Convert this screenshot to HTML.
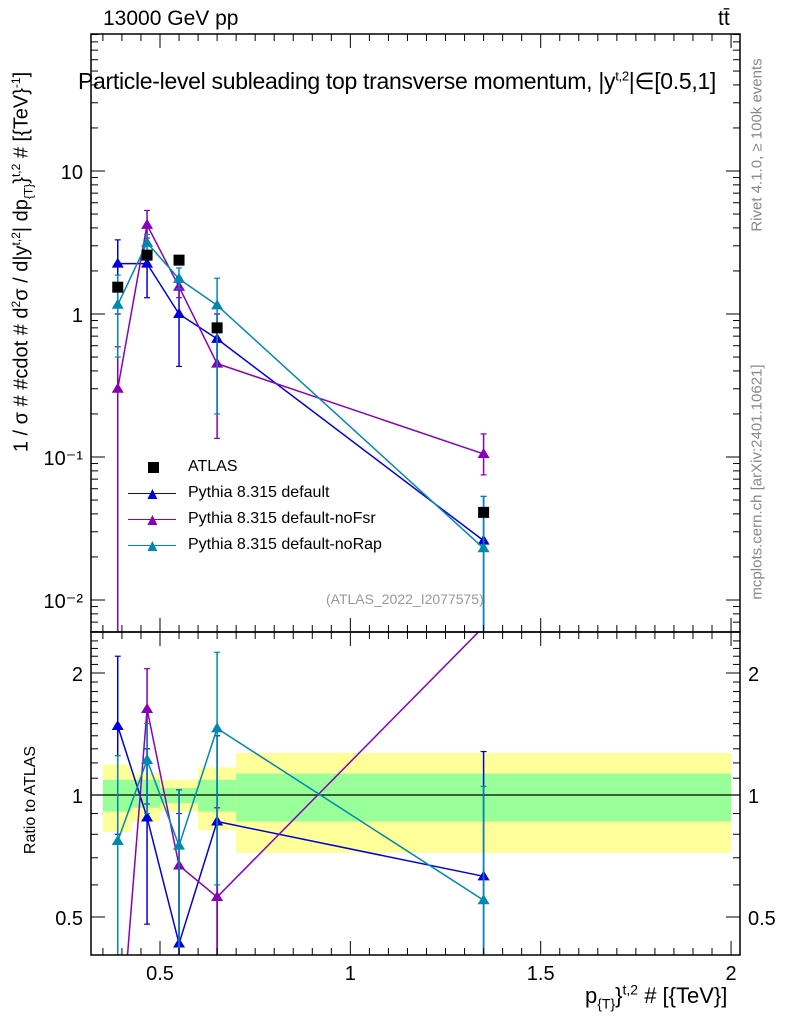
<!DOCTYPE html>
<html><head><meta charset="utf-8"><style>
html,body{margin:0;background:#fff;width:786px;height:1024px;overflow:hidden;}
svg{display:block;font-family:"Liberation Sans",sans-serif;}
sup,sub{line-height:0;}
</style></head><body>
<svg id="c" width="786" height="1024" viewBox="0 0 786 1024"></svg>
<script>
const binEdges=[0.35,0.425,0.5,0.6,0.7,2.0];
const xPts=[0.389,0.466,0.55,0.65,1.35];
const atlas=[1.54,2.58,2.38,0.80,0.041];
const defVal=[2.25,2.25,1.0,0.67,0.026];
const defUp=[3.3,2.6,1.8,1.0,0.053];
const defDn=[1.0,1.3,0.43,0.45,0.001];
const fsrVal=[0.30,4.2,1.55,0.45,0.105];
const fsrUp=[0.59,5.3,1.8,1.0,0.145];
const fsrDn=[0.001,3.4,1.3,0.135,0.075];
const rapVal=[1.16,3.15,1.76,1.15,0.023];
const rapUp=[1.87,3.6,2.1,1.78,0.053];
const rapDn=[0.5,2.6,1.5,0.2,0.001];
const rDef=[1.48,0.88,0.43,0.86,0.63];
const rDefUp=[2.2,1.3,1.03,1.4,1.28];
const rDefDn=[0.8,0.48,0.3,0.35,0.3];
const rFsr=[0.2,1.63,0.67,0.56,2.6];
const rFsrUp=[0.35,2.05,0.9,0.93,2.6];
const rFsrDn=[0.1,0.95,0.4,0.3,2.6];
const rRap=[0.77,1.22,0.75,1.46,0.55];
const rRapUp=[1.25,1.5,1.03,2.25,1.05];
const rRapDn=[0.3,0.9,0.4,0.6,0.3];
const bandYel=[[0.81,1.19],[0.86,1.13],[0.91,1.09],[0.82,1.17],[0.72,1.27]];
const bandGrn=[[0.91,1.09],[0.93,1.09],[0.955,1.04],[0.91,1.09],[0.86,1.13]];
const yTickLbl=["10\u207B\u00B2","10\u207B\u00B9","1","10"];
const yTickVal=[0.01,0.1,1,10];
const rTickVal=[0.5,1,2];
const xTickVal=[0.5,1,1.5,2];

const L=91,R=740,T=34,M=632,B=955;
const X=v=>160+(v-0.5)*380.7;
const Y=v=>314-Math.log10(v)*143;
const RY=v=>795-Math.log2(v)*122;
const svg=document.getElementById('c');
const NS='http://www.w3.org/2000/svg';
function el(t,a,p){const e=document.createElementNS(NS,t);for(const k in a)e.setAttribute(k,a[k]);(p||svg).appendChild(e);return e;}
function txt(s,a,p){const e=el('text',a,p);e.textContent=s;return e;}
const clipD=el('defs',{});
const c1=el('clipPath',{id:'top'},clipD);el('rect',{x:L,y:T,width:R-L,height:M-T},c1);
const c2=el('clipPath',{id:'bot'},clipD);el('rect',{x:L,y:M,width:R-L,height:B-M},c2);

const gb=el('g',{'clip-path':'url(#bot)'});


for(let i=0;i<5;i++){
 el('rect',{x:X(binEdges[i]),y:RY(bandYel[i][1]),width:X(binEdges[i+1])-X(binEdges[i]),height:RY(bandYel[i][0])-RY(bandYel[i][1]),fill:'#ffff99'},gb);
 el('rect',{x:X(binEdges[i]),y:RY(bandGrn[i][1]),width:X(binEdges[i+1])-X(binEdges[i]),height:RY(bandGrn[i][0])-RY(bandGrn[i][1]),fill:'#99ff99'},gb);
}
el('line',{x1:L,x2:R,y1:RY(1),y2:RY(1),stroke:'#000','stroke-width':1.2},gb);

function tri(g,x,y,col){el('path',{d:`M${x},${y-6} L${x+6},${y+4} L${x-6},${y+4}Z`,fill:col},g);}
function series(name,vals,up,dn,col,yf,clip){
 const g=el('g',{'clip-path':`url(#${clip})`});
 
 
 el('polyline',{points:xPts.map((x,i)=>X(x)+','+yf(vals[i])).join(' '),fill:'none',stroke:col,'stroke-width':1.5},g);
 xPts.forEach((x,i)=>{const px=X(x);
  el('line',{x1:px,x2:px,y1:yf(up[i]),y2:yf(dn[i]),stroke:col,'stroke-width':1.5},g);
  el('line',{x1:px-3,x2:px+3,y1:yf(up[i]),y2:yf(up[i]),stroke:col,'stroke-width':1.2},g);
  el('line',{x1:px-3,x2:px+3,y1:yf(dn[i]),y2:yf(dn[i]),stroke:col,'stroke-width':1.2},g);
  tri(g,px,yf(vals[i]),col);});
}
const cD='#0000dd',cF='#8800b8',cR='#0088b0';
series('default-series',defVal,defUp,defDn,cD,Y,'top');
series('nofsr-series',fsrVal,fsrUp,fsrDn,cF,Y,'top');
series('norap-series',rapVal,rapUp,rapDn,cR,Y,'top');
series('default-ratio',rDef,rDefUp,rDefDn,cD,RY,'bot');
series('nofsr-ratio',rFsr,rFsrUp,rFsrDn,cF,RY,'bot');
series('norap-ratio',rRap,rRapUp,rRapDn,cR,RY,'bot');
const ga=el('g',{'clip-path':'url(#top)'});


xPts.forEach((x,i)=>{el('rect',{x:X(x)-5.5,y:Y(atlas[i])-5.5,width:11,height:11,fill:'#000'},ga);});

const fr=el('g',{});


el('rect',{x:L,y:T,width:R-L,height:M-T,fill:'none',stroke:'#000','stroke-width':1.5},fr);
el('rect',{x:L,y:M,width:R-L,height:B-M,fill:'none',stroke:'#000','stroke-width':1.5},fr);
for(let v=0.35;v<=2.02;v+=0.05){const px=X(v);const maj=Math.abs(v*2-Math.round(v*2))<1e-6;const h=maj?14:7;
 [T,M].forEach(yy=>el('line',{x1:px,x2:px,y1:yy,y2:yy+h,stroke:'#000'},fr));
 [M,B].forEach(yy=>el('line',{x1:px,x2:px,y1:yy,y2:yy-h,stroke:'#000'},fr));}
for(let d=-3;d<2;d++)for(let k=1;k<10;k++){const v=k*Math.pow(10,d);const py=Y(v);if(py<T||py>M)continue;const h=k==1?14:7;
 el('line',{x1:L,x2:L+h,y1:py,y2:py,stroke:'#000'},fr);el('line',{x1:R,x2:R-h,y1:py,y2:py,stroke:'#000'},fr);}
for(let v=0.4;v<=2.5;v+=0.1){const py=RY(v);if(py<M||py>B)continue;const maj=[0.5,1,2].some(m=>Math.abs(m-v)<1e-6);const h=maj?14:7;
 el('line',{x1:L,x2:L+h,y1:py,y2:py,stroke:'#000'},fr);el('line',{x1:R,x2:R-h,y1:py,y2:py,stroke:'#000'},fr);}
yTickVal.forEach((v,i)=>txt(yTickLbl[i],{x:83,y:Y(v)+8,'font-size':20,'text-anchor':'end'},fr));
rTickVal.forEach(v=>{txt(String(v),{x:83,y:RY(v)+8,'font-size':20,'text-anchor':'end'},fr);txt(String(v),{x:748,y:RY(v)+8,'font-size':20},fr);});
xTickVal.forEach(v=>txt(String(v),{x:X(v),y:980,'font-size':20,'text-anchor':'middle'},fr));
</script>
<div style="position:absolute;left:0;top:0;width:786px;height:1024px;overflow:hidden;pointer-events:none;font-family:'Liberation Sans',sans-serif;">
<div style="position:absolute;left:103px;top:7px;font-size:21px;">13000 GeV pp</div>
<div style="position:absolute;left:718px;top:7px;font-size:21px;">tt̄</div>
<div style="position:absolute;left:78px;top:68px;font-size:23px;white-space:nowrap;letter-spacing:-0.3px;">Particle-level subleading top transverse momentum, |y<sup style="font-size:13px">t,2</sup>|∈[0.5,1]</div>
<div style="position:absolute;left:22px;top:262px;width:0;height:0;">
<div style="position:absolute;left:0;top:0;font-size:20px;white-space:nowrap;transform:translate(-50%,-50%) rotate(-90deg);">1 / σ # #cdot # d<sup style="font-size:12px">2</sup>σ / d|y<sup style="font-size:12px">t,2</sup>| dp<sub style="font-size:12px">{T}</sub>}<sup style="font-size:12px">t,2</sup> # [{TeV}<sup style="font-size:12px">-1</sup>]</div></div>
<div style="position:absolute;left:31px;top:800px;width:0;height:0;">
<div style="position:absolute;left:0;top:0;font-size:16px;white-space:nowrap;transform:translate(-50%,-50%) rotate(-90deg);">Ratio to ATLAS</div></div>
<div style="position:absolute;left:585px;top:983px;font-size:22px;white-space:nowrap;">p<sub style="font-size:14px">{T}</sub>}<sup style="font-size:14px">t,2</sup> # [{TeV}]</div>
<div style="position:absolute;left:757px;top:145px;width:0;height:0;">
<div style="position:absolute;font-size:15px;color:#888;white-space:nowrap;transform:translate(-50%,-50%) rotate(-90deg);">Rivet 4.1.0, ≥ 100k events</div></div>
<div style="position:absolute;left:757px;top:482px;width:0;height:0;">
<div style="position:absolute;font-size:15px;color:#888;white-space:nowrap;transform:translate(-50%,-50%) rotate(-90deg);">mcplots.cern.ch [arXiv:2401.10621]</div></div>
<div style="position:absolute;left:326px;top:591px;font-size:14px;color:#999;">(ATLAS_2022_I2077575)</div>
<div style="position:absolute;left:128px;top:454px;font-size:16px;line-height:26px;">
<div style="position:relative;padding-left:60px;"><span style="position:absolute;left:20px;top:8px;width:11px;height:11px;background:#000;"></span>ATLAS</div>
<div style="position:relative;padding-left:60px;"><span style="position:absolute;left:0;top:13px;width:48px;border-top:1.5px solid #0000dd;"></span><span style="position:absolute;left:16px;top:1px;color:#0000dd;font-size:17px;">▲</span>Pythia 8.315 default</div>
<div style="position:relative;padding-left:60px;"><span style="position:absolute;left:0;top:13px;width:48px;border-top:1.5px solid #8800b8;"></span><span style="position:absolute;left:16px;top:1px;color:#8800b8;font-size:17px;">▲</span>Pythia 8.315 default-noFsr</div>
<div style="position:relative;padding-left:60px;"><span style="position:absolute;left:0;top:13px;width:48px;border-top:1.5px solid #0088b0;"></span><span style="position:absolute;left:16px;top:1px;color:#0088b0;font-size:17px;">▲</span>Pythia 8.315 default-noRap</div>
</div>
</div>
</body></html>
